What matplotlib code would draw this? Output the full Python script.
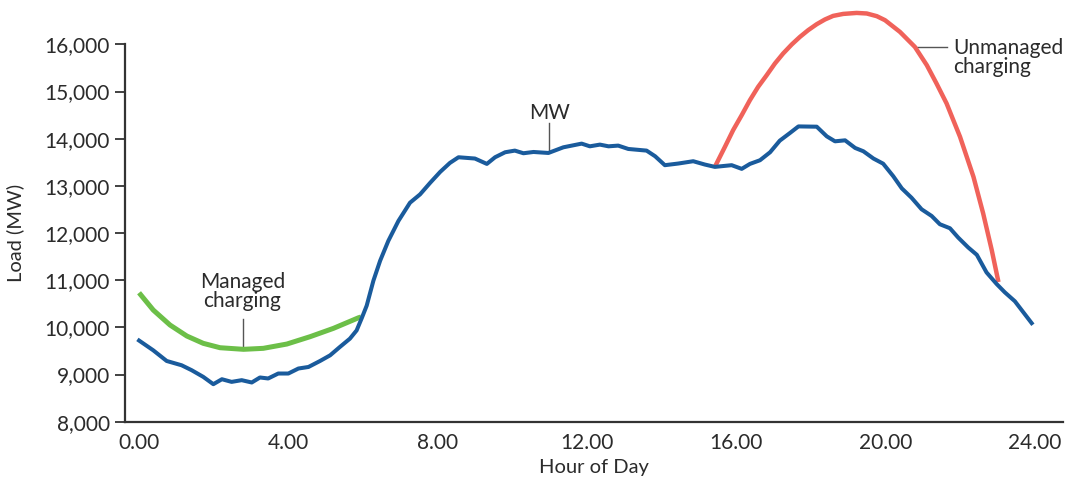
import numpy as np
import matplotlib
matplotlib.use('Agg')
import matplotlib.pyplot as plt
from matplotlib.ticker import FuncFormatter


# Base load (MW) by hour of day
BASE_HOURS = [0.00, 0.38, 0.74, 1.14, 1.41, 1.72, 1.99, 2.22, 2.48, 2.75, 3.02, 3.24,
              3.46, 3.73, 4.00, 4.27, 4.54, 4.85, 5.12, 5.38, 5.65, 5.83, 5.97, 6.10,
              6.28, 6.46, 6.68, 6.95, 7.26, 7.53, 7.80, 8.07, 8.33, 8.56, 9.00, 9.32,
              9.54, 9.81, 10.07, 10.30, 10.57, 10.97, 11.37, 11.86, 12.08, 12.35, 12.58,
              12.84, 13.11, 13.60, 13.83, 14.09, 14.45, 14.85, 15.16, 15.43, 15.88, 16.15,
              16.37, 16.64, 16.91, 17.17, 17.44, 17.67, 18.16, 18.43, 18.65, 18.92, 19.19,
              19.41, 19.68, 19.94, 20.21, 20.44, 20.70, 20.97, 21.24, 21.46, 21.73, 21.95,
              22.22, 22.45, 22.71, 22.98, 23.20, 23.47, 23.92]
BASE_LOAD = [9720, 9513, 9287, 9196, 9091, 8950, 8795, 8900, 8844, 8880, 8831, 8937,
             8916, 9021, 9021, 9127, 9160, 9287, 9407, 9583, 9760, 9935, 10200, 10460,
             10990, 11412, 11834, 12256, 12642, 12819, 13064, 13296, 13486, 13606, 13579, 13465,
             13606, 13712, 13747, 13691, 13718, 13697, 13817, 13895, 13838, 13874, 13838,
             13853, 13782, 13747, 13627, 13438, 13473, 13522, 13452, 13402, 13438, 13360,
             13465, 13543, 13712, 13958, 14119, 14260, 14254, 14049, 13944, 13965, 13803,
             13733, 13579, 13470, 13205, 12946, 12748, 12503, 12361, 12186, 12101, 11904,
             11693, 11538, 11165, 10920, 10743, 10553, 10089]

MANAGED_HOURS = [0.00, 0.38, 0.83, 1.28, 1.72, 2.17, 2.80, 3.33, 3.96, 4.58, 5.21, 5.88, 5.95]
MANAGED_LOAD = [10733, 10367, 10049, 9816, 9661, 9568, 9534, 9555, 9646, 9801, 9979, 10203, 10220]

UNMANAGED_HOURS = [15.43, 15.70, 15.92, 16.15, 16.37, 16.59, 16.82, 17.04, 17.26, 17.49,
                   17.71, 17.93, 18.16, 18.38, 18.60, 18.87, 19.23, 19.50, 19.77, 19.99,
                   20.39, 20.79, 21.11, 21.37, 21.64, 21.82, 22.00, 22.36, 22.62, 22.85, 23.03]
UNMANAGED_LOAD = [13402, 13827, 14181, 14499, 14817, 15099, 15347, 15594, 15806, 15997,
                  16158, 16300, 16427, 16527, 16603, 16645, 16666, 16654, 16597, 16512,
                  16264, 15946, 15558, 15170, 14747, 14393, 14040, 13192, 12416, 11638, 10960]

X_TICKS = [0, 4, 8, 12, 16, 20, 24]
Y_TICKS = [8000, 9000, 10000, 11000, 12000, 13000, 14000, 15000, 16000]

TEXT_COLOR = '#2b2b2b'
BLUE = '#1a5b9c'
GREEN = '#6cbf48'
RED = '#f0625a'


def draw_chart(save_path):
    plt.rcParams['font.family'] = ['Lato', 'DejaVu Sans']

    fig = plt.figure(figsize=(10.69, 4.80), dpi=100)
    ax = fig.add_axes([0.117, 0.1215, 0.8774, 0.8785])

    ax.plot(MANAGED_HOURS, MANAGED_LOAD, color=GREEN, lw=3.6, solid_capstyle='butt', zorder=2)
    ax.plot(UNMANAGED_HOURS, UNMANAGED_LOAD, color=RED, lw=3.2, solid_capstyle='butt',
            solid_joinstyle='round', zorder=2)
    ax.plot(BASE_HOURS, BASE_LOAD, color=BLUE, lw=2.9, solid_joinstyle='round', zorder=3)

    ax.set_xlim(-0.375, 24.76)
    ax.set_ylim(8000, 16940)

    for side in ('top', 'right'):
        ax.spines[side].set_visible(False)
    for side in ('left', 'bottom'):
        ax.spines[side].set_color('#333333')
        ax.spines[side].set_linewidth(1.6)
    ax.spines['left'].set_bounds(8000, 16000)

    ax.set_xticks(X_TICKS)
    ax.xaxis.set_major_formatter(FuncFormatter(lambda v, p: f'{v:.2f}'))
    ax.set_yticks(Y_TICKS)
    ax.yaxis.set_major_formatter(FuncFormatter(lambda v, p: f'{int(v):,}'))
    ax.tick_params(axis='x', length=0, pad=8, labelsize=15, labelcolor=TEXT_COLOR)
    ax.tick_params(axis='y', length=7, width=1.3, color='#333333', pad=4,
                   labelsize=15, labelcolor=TEXT_COLOR)

    ax.set_xlabel('Hour of Day', fontsize=14.5, color=TEXT_COLOR)
    ax.xaxis.set_label_coords(0.5, -0.088)
    ax.set_ylabel('Load (MW)', fontsize=14.5, color=TEXT_COLOR)
    ax.yaxis.set_label_coords(-0.108, (12000 - 8000) / (16940 - 8000))

    # annotations with thin leader lines
    leader = dict(color='#555555', lw=1.0, zorder=1)
    ax.plot([2.78, 2.78], [10176, 9560], **leader)
    ax.text(2.77, 10760, 'Managed\ncharging', ha='center', va='center',
            fontsize=15, color=TEXT_COLOR, linespacing=0.9)

    ax.plot([10.99, 10.99], [14329, 13715], **leader)
    ax.text(10.99, 14541, 'MW', ha='center', va='center', fontsize=15, color=TEXT_COLOR)

    ax.plot([20.82, 21.64], [15946, 15946], **leader)
    ax.text(21.81, 15717, 'Unmanaged\ncharging', ha='left', va='center',
            fontsize=15, color=TEXT_COLOR, linespacing=0.9)

    fig.savefig(save_path, dpi=100)
    plt.close(fig)


def main():
    draw_chart('out.png')


if __name__ == '__main__':
    main()
